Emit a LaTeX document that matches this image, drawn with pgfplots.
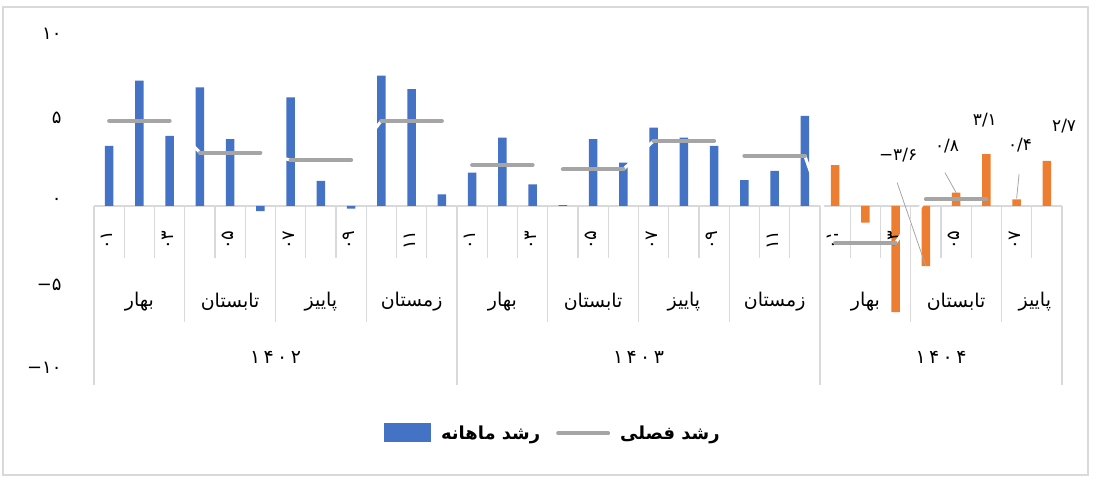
\documentclass[border=0pt]{standalone}
\usepackage{fontspec}
\usepackage{pgfplots}
\pgfplotsset{compat=1.18}
\setmainfont{DejaVu Sans}
\newfontfamily\fa[Script=Arabic]{DejaVu Sans}
\newfontfamily\fad{DejaVu Sans}
\newfontfamily\fady[LetterSpace=18]{DejaVu Sans}
\TeXXeTstate=1

\definecolor{mblue}{HTML}{4472C4}
\definecolor{morange}{HTML}{ED7D31}
\definecolor{sgray}{HTML}{A5A5A5}
\definecolor{sep}{HTML}{D9D9D9}

% month label (rotated), season label, year label
\newcommand\mlab[2]{\path (axis cs:#1,0) ++(-2bp,-34bp) node[rotate=90,font=\fad\fontsize{18}{18}\selectfont] {#2};}
\newcommand\slab[2]{\path (axis cs:#1,0) ++(0bp,-96bp) node[font=\fa\fontsize{19}{19}\selectfont] {\beginR #2\endR};}
\newcommand\ylab[2]{\path (axis cs:#1,0) ++(0bp,-151bp) node[font=\fady\fontsize{19}{19}\selectfont] {#2};}

\begin{document}
\begin{tikzpicture}
\path[use as bounding box] (0bp,0bp) rectangle (1095bp,477bp);
\draw[sep, line width=1.2bp] (3bp,2bp) rectangle (1088bp,470bp);

\begin{axis}[
    at={(94bp,104bp)}, anchor=south west,
    scale only axis, width=968bp, height=334bp,
    xmin=-0.5, xmax=31.5, ymin=-10, ymax=10,
    clip=false,
    axis line style={draw=none},
    xtick=\empty,
    ytick={-10,-5,0,5,10},
    yticklabels={−۱۰,−۵,۰,۵,۱۰},
    major tick length=0pt,
    yticklabel style={font=\fad\fontsize{18}{18}\selectfont, anchor=east, xshift=-29bp, yshift=5bp},
    legend style={at={(0.474,-0.18)}, anchor=center, draw=none, fill=none,
        legend columns=2, font=\fa\bfseries\fontsize{18}{18}\selectfont,
        /tikz/every odd column/.append style={column sep=8bp},
        /tikz/every even column/.append style={column sep=14bp}},
]

% category axis: base line and separators
\draw[sep, line width=1.2bp] (axis cs:-0.5,0) -- (axis cs:31.5,0);
\pgfplotsinvokeforeach{-0.5,0.5,...,31.5}{\draw[sep, line width=1.2bp] (axis cs:#1,0) -- ++(0bp,-52bp);}
\pgfplotsinvokeforeach{2.5,5.5,8.5,14.5,17.5,20.5,26.5,29.5}{\draw[sep, line width=1.2bp] (axis cs:#1,0) -- ++(0bp,-116bp);}
\pgfplotsinvokeforeach{-0.5,11.5,23.5,31.5}{\draw[sep, line width=1.2bp] (axis cs:#1,0) -- ++(0bp,-179bp);}

% monthly growth
\addplot[ybar, bar width=8.7bp, bar shift=0pt, fill=mblue, draw=none,
    legend image code/.code={\fill[mblue] (0bp,-9bp) rectangle (47bp,10bp);}]
    coordinates {
    (0,3.6) (1,7.5) (2,4.2) (3,7.1) (4,4.0) (5,-0.3)
    (6,6.5) (7,1.5) (8,-0.15) (9,7.8) (10,7.0) (11,0.7)
    (12,2.0) (13,4.1) (14,1.3) (15,0.05) (16,4.0) (17,2.6)
    (18,4.7) (19,4.1) (20,3.6) (21,1.55) (22,2.1) (23,5.4)};
\addlegendentry{\beginR رشد ماهانه\endR}
\addplot[ybar, bar width=8.7bp, bar shift=0pt, fill=morange, draw=none, forget plot]
    coordinates {
    (24,2.45) (25,-1.0) (26,-6.35) (27,-3.6) (28,0.8) (29,3.1)
    (30,0.4) (31,2.7)};

% axis labels
\mlab{0}{۰۱}\mlab{2}{۰۳}\mlab{4}{۰۵}\mlab{6}{۰۷}\mlab{8}{۰۹}\mlab{10}{۱۱}
\mlab{12}{۰۱}\mlab{14}{۰۳}\mlab{16}{۰۵}\mlab{18}{۰۷}\mlab{20}{۰۹}\mlab{22}{۱۱}
\mlab{24}{۰۱}\mlab{26}{۰۳}\mlab{28}{۰۵}\mlab{30}{۰۷}
\slab{1}{بهار}\slab{4}{تابستان}\slab{7}{پاییز}\slab{10}{زمستان}
\slab{13}{بهار}\slab{16}{تابستان}\slab{19}{پاییز}\slab{22}{زمستان}
\slab{25}{بهار}\slab{28}{تابستان}\slab{30.6}{پاییز}
\ylab{5.5}{۱۴۰۲}\ylab{17.5}{۱۴۰۳}\ylab{27.5}{۱۴۰۴}

% seasonal growth: hidden connectors (white) and season segments
\addplot[white, line width=3bp, forget plot] coordinates {
    (0,5.1) (2,5.1) (3,3.2) (5,3.2) (6,2.75) (8,2.75) (9,5.1) (11,5.1)
    (12,2.45) (14,2.45) (15,2.2) (17,2.2) (18,3.9) (20,3.9) (21,3.0) (23,3.0)
    (24,-2.2) (26,-2.2) (27,0.4) (29,0.4)};
\addplot[sgray, line width=4bp, line cap=round, unbounded coords=jump,
    legend image code/.code={\draw[sgray, line width=4bp] (0bp,0bp) -- (50bp,0bp);}]
    coordinates {
    (0,5.1) (2,5.1) (2.5,nan) (3,3.2) (5,3.2) (5.5,nan) (6,2.75) (8,2.75) (8.5,nan) (9,5.1) (11,5.1) (11.5,nan)
    (12,2.45) (14,2.45) (14.5,nan) (15,2.2) (17,2.2) (17.5,nan) (18,3.9) (20,3.9) (20.5,nan) (21,3.0) (23,3.0) (23.5,nan)
    (24,-2.2) (26,-2.2) (26.5,nan) (27,0.4) (29,0.4)};
\addlegendentry{\beginR رشد فصلی\endR}

% data labels of the latest months
\draw[sgray, line width=0.8bp] (axis cs:26.05,1.4) -- (axis cs:27,-3.6);
\draw[sgray, line width=0.8bp] (axis cs:27.63,2.0) -- (axis cs:28,0.8);
\draw[sgray, line width=0.8bp] (axis cs:30.08,1.9) -- (axis cs:30,0.45);
\node[font=\fad\fontsize{17}{17}\selectfont] at (axis cs:26.08,3.05) {−۳/۶};
\node[font=\fad\fontsize{17}{17}\selectfont] at (axis cs:27.7,3.6) {۰/۸};
\node[font=\fad\fontsize{17}{17}\selectfont] at (axis cs:28.95,5.15) {۳/۱};
\node[font=\fad\fontsize{17}{17}\selectfont] at (axis cs:30.11,3.65) {۰/۴};
\node[font=\fad\fontsize{17}{17}\selectfont] at (axis cs:31.57,4.8) {۲/۷};
\end{axis}
\end{tikzpicture}
\end{document}
